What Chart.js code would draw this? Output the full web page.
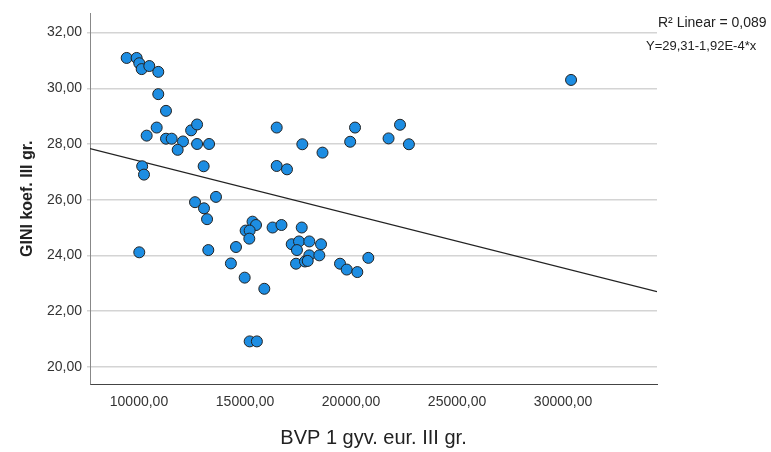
<!DOCTYPE html>
<html>
<head>
<meta charset="utf-8">
<script src="https://cdn.jsdelivr.net/npm/chart.js@4/dist/chart.umd.min.js"></script>
<style>
  html, body { margin: 0; padding: 0; background: #fff; }
  #wrap { width: 771px; height: 452px; }
</style>
</head>
<body>
<div id="wrap"><canvas id="myChart" width="771" height="452"></canvas></div>
<script>
// BVP 1 gyv. (eur) vs GINI koef.
const bvp = [
  9420, 9890, 10014, 10127, 10486, 10910, 10910, 11274, 10835, 10363,
  11274, 11542, 12075, 11825, 12460, 12740, 12740, 13305, 10150, 10236,
  13050, 12642, 13632, 13066, 13210, 10014, 13269, 14575, 14335, 14985,
  15910, 15220, 15560, 15355, 15519, 15030, 15220, 15203, 16300, 16720,
  17675, 17203, 17547, 18033, 18585, 17450, 18033, 18505, 17406, 17830,
  17958, 19481, 19797, 20297, 20816, 16495, 16495, 16980, 17703, 18655,
  19960, 20189, 21770, 22311, 22730, 30377
];
const gini = [
  31.09, 31.09, 30.90, 30.69, 30.80, 30.59, 29.79, 29.19, 28.59, 28.30,
  28.19, 28.19, 28.09, 27.79, 28.49, 28.70, 28.00, 28.00, 27.20, 26.90,
  27.20, 25.91, 26.10, 25.69, 25.30, 24.11, 24.19, 24.30, 23.71, 23.20,
  22.80, 20.91, 20.91, 25.21, 25.09, 24.89, 24.89, 24.60, 25.00, 25.09,
  25.00, 24.40, 24.50, 24.50, 24.40, 24.19, 24.00, 24.00, 23.70, 23.78,
  23.80, 23.70, 23.49, 23.40, 23.91, 28.59, 27.21, 27.09, 27.99, 27.69,
  28.08, 28.59, 28.20, 28.69, 27.99, 30.30
];
const xTicks = [10000, 15000, 20000, 25000, 30000];
const yTicks = [20, 22, 24, 26, 28, 30, 32];

// fit line from the printed equation
const intercept = 29.31;
const slope = -1.92e-4;
const rSquared = "0,089";

const xMin = 7690, xMax = 34430;
const yMin = 19.38, yMax = 32.69;

const FONT = "'Liberation Sans', Arial, sans-serif";

function comma(v) {
  return Number(v).toFixed(2).replace(".", ",");
}

const fitLabel = {
  id: "fitLabel",
  afterDraw(chart) {
    const c = chart.ctx;
    c.save();
    c.fillStyle = "#222";
    c.textBaseline = "middle";
    c.textAlign = "left";
    c.font = "14px " + FONT;
    c.fillText("R² Linear = " + rSquared, 658, 23);
    c.font = "13px " + FONT;
    const eq = "Y=" + comma(intercept) + "-" + "1,92E-4" + "*x";
    c.fillText(eq, 646, 46);
    c.restore();
  },
};

const ctx = document.getElementById("myChart");
new Chart(ctx, {
  type: "scatter",
  data: {
    datasets: [
      {
        label: "GINI",
        data: bvp.map((x, i) => ({ x: x, y: gini[i] })),
        pointRadius: 5.5,
        pointBackgroundColor: "#1d8de2",
        pointBorderColor: "#222",
        pointBorderWidth: 1,
      },
      {
        label: "Linear",
        type: "line",
        data: [
          { x: xMin, y: intercept + slope * xMin },
          { x: xMax, y: intercept + slope * xMax },
        ],
        borderColor: "#222",
        borderWidth: 1.2,
        pointRadius: 0,
        fill: false,
      },
    ],
  },
  options: {
    responsive: false,
    animation: false,
    layout: { padding: { top: 10, right: 114, left: 0, bottom: 0 } },
    plugins: {
      legend: { display: false },
      tooltip: { enabled: false },
    },
    scales: {
      x: {
        type: "linear",
        min: xMin,
        max: xMax,
        afterBuildTicks: (s) => { s.ticks = xTicks.map((v) => ({ value: v })); },
        afterFit: (s) => { s.height = 68; },
        grid: { display: false, drawTicks: false },
        border: { display: true, color: "#444", width: 1 },
        ticks: {
          padding: 10,
          color: "#333",
          font: { family: FONT, size: 14 },
          maxRotation: 0,
          callback: (v) => comma(v),
        },
        title: {
          display: true,
          text: "BVP 1 gyv. eur. III gr.",
          color: "#222",
          font: { family: FONT, size: 20 },
          padding: { top: 0, bottom: 2 },
        },
      },
      y: {
        type: "linear",
        min: yMin,
        max: yMax,
        afterBuildTicks: (s) => { s.ticks = yTicks.map((v) => ({ value: v })); },
        afterFit: (s) => { s.width = 90; },
        grid: { color: "#d4d4d4", lineWidth: 1.5, drawTicks: true, tickLength: 3 },
        border: { display: true, color: "#888", width: 1 },
        ticks: {
          padding: 5,
          color: "#333",
          font: { family: FONT, size: 14 },
          callback: (v) => comma(v),
        },
        title: {
          display: true,
          text: "GINI koef. III gr.",
          color: "#222",
          font: { family: FONT, size: 16, weight: "bold" },
          padding: { top: 18, bottom: 0 },
        },
      },
    },
  },
  plugins: [fitLabel],
});
</script>
</body>
</html>
